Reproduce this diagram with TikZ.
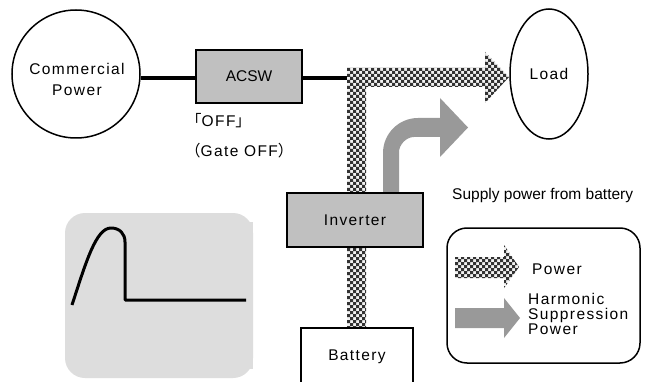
\documentclass[tikz,border=0pt]{standalone}
\usepackage{fontspec}
\setmainfont{Liberation Sans}
\newfontfamily\cjk{Noto Sans CJK JP}
\usetikzlibrary{shapes.geometric}
\definecolor{boxgray}{HTML}{C0C0C0}
\definecolor{arrowgray}{HTML}{999999}
\definecolor{bggray}{HTML}{DDDDDD}
\definecolor{chklight}{HTML}{F2F2F2}
\definecolor{chkdark}{HTML}{333333}
\newcommand\mycheckers[4]{% x1 y1 x2 y2 (already clipped)
  \fill[chklight] (#1,#2) rectangle (#3,#4);
  \pgfmathtruncatemacro\cxa{#1}\pgfmathtruncatemacro\cxb{#1+6}
  \pgfmathtruncatemacro\cya{#2}\pgfmathtruncatemacro\cyb{#2+6}
  \fill[chkdark] \foreach \x in {\cxa,\cxb,...,#3} {\foreach \y in {\cya,\cyb,...,#4} {(\x,\y) rectangle ++(3,3) (\x+3,\y+3) rectangle ++(3,3)}};
}
\tikzset{
  lbl/.style={font=\fontsize{15.5}{15}\selectfont, inner sep=0pt},
  splbl/.style={font=\fontsize{15.5}{15}\selectfont\addfontfeature{LetterSpace=9}, inner sep=0pt},
  graybox/.style={draw, line width=1.5pt, fill=boxgray, inner sep=0pt},
  whitebox/.style={draw, line width=1.5pt, fill=white, inner sep=0pt},
  wire/.style={line width=4pt},
  harm/.style={fill=arrowgray},
  wave/.style={line width=3pt, line join=round},
}
\begin{document}
\begin{tikzpicture}[x=1pt,y=-1pt]
\clip (0,0) rectangle (650,382);
\fill[white] (0,0) rectangle (650,382);

% waveform background
\node[fill=bggray, rounded corners=20pt, minimum width=188pt, minimum height=165pt, inner sep=0pt] (wavebg) at (159,295.5) {};
\fill[bggray] (244,222) rectangle (253,369);
\draw[wave] (72,305) .. controls (86,262) and (96,228) .. (111,228) .. controls (120,228) and (125,234) .. (125,242) -- (125,300) -- (246,300);

% nodes
\node[circle, draw, line width=1.5pt, minimum size=128pt, inner sep=0pt] (cp) at (76,74) {};
\node[splbl, align=center, font=\fontsize{15.5}{21}\selectfont\addfontfeature{LetterSpace=9}] (cptext) at (77,79.5) {Commercial\\Power};
\node[graybox, lbl, minimum width=106pt, minimum height=53pt] (acsw) at (249,76.5) {ACSW};
\node[ellipse, draw, line width=1.5pt, minimum width=78pt, minimum height=130pt, inner sep=0pt, splbl] (load) at (549,74) {Load};
\coordinate (junc) at (347,78);

% wires
\draw[wire] (cp.east |- junc) -- (acsw.west |- junc);
\draw[wire] (acsw.east |- junc) -- (junc);

% checkered power path
\begin{scope}
\clip (347,193) -- (347,68) -- (485,68) -- (485,52) -- (509,77) -- (485,103) -- (485,87) -- (366,87) -- (366,193) -- cycle;
\mycheckers{347}{50}{510}{194}
\end{scope}
\begin{scope}
\clip (347,246) rectangle (366,329);
\mycheckers{347}{50}{366}{330}
\end{scope}

% harmonic suppression arrow
\path[harm] (383,194) -- (383,153) .. controls (383,133.7) and (398.7,118) .. (418,118) -- (440,118) -- (440,98) -- (468,127.5) -- (440,157) -- (440,137) -- (414,137) .. controls (405.7,137) and (399,145.3) .. (399,152) -- (399,194) -- cycle;

\node[graybox, minimum width=136pt, minimum height=54pt, splbl] (inv) at (355,220) {Inverter};
\node[whitebox, minimum width=112pt, minimum height=58pt, splbl] (bat) at (357,357) {Battery};

% labels
\node[splbl, anchor=west] (off) at (186,121) {{\cjk 「}OFF{\cjk 」}};
\node[splbl, anchor=west] (gate) at (185,151) {{\cjk （}Gate OFF{\cjk ）}};
\node[lbl, anchor=west] (supply) at (452,195) {Supply power from battery};

% legend
\node[draw, line width=1.5pt, rounded corners=20pt, minimum width=193pt, minimum height=135pt, inner sep=0pt] (legend) at (543.5,295.5) {};
\begin{scope}
\clip (455,257) -- (504,257) -- (504,245) -- (519,267) -- (504,288) -- (504,278) -- (455,278) -- cycle;
\mycheckers{455}{244}{520}{290}
\end{scope}
\path[harm] (455,308) -- (504,308) -- (504,298) -- (520,318) -- (504,338) -- (504,328) -- (455,328) -- cycle;
\node[splbl, anchor=west] (lpower) at (532,269) {Power};
\node[splbl, anchor=west, align=left] (lharm) at (528,313.5) {Harmonic\\Suppression\\Power};
\end{tikzpicture}
\end{document}
